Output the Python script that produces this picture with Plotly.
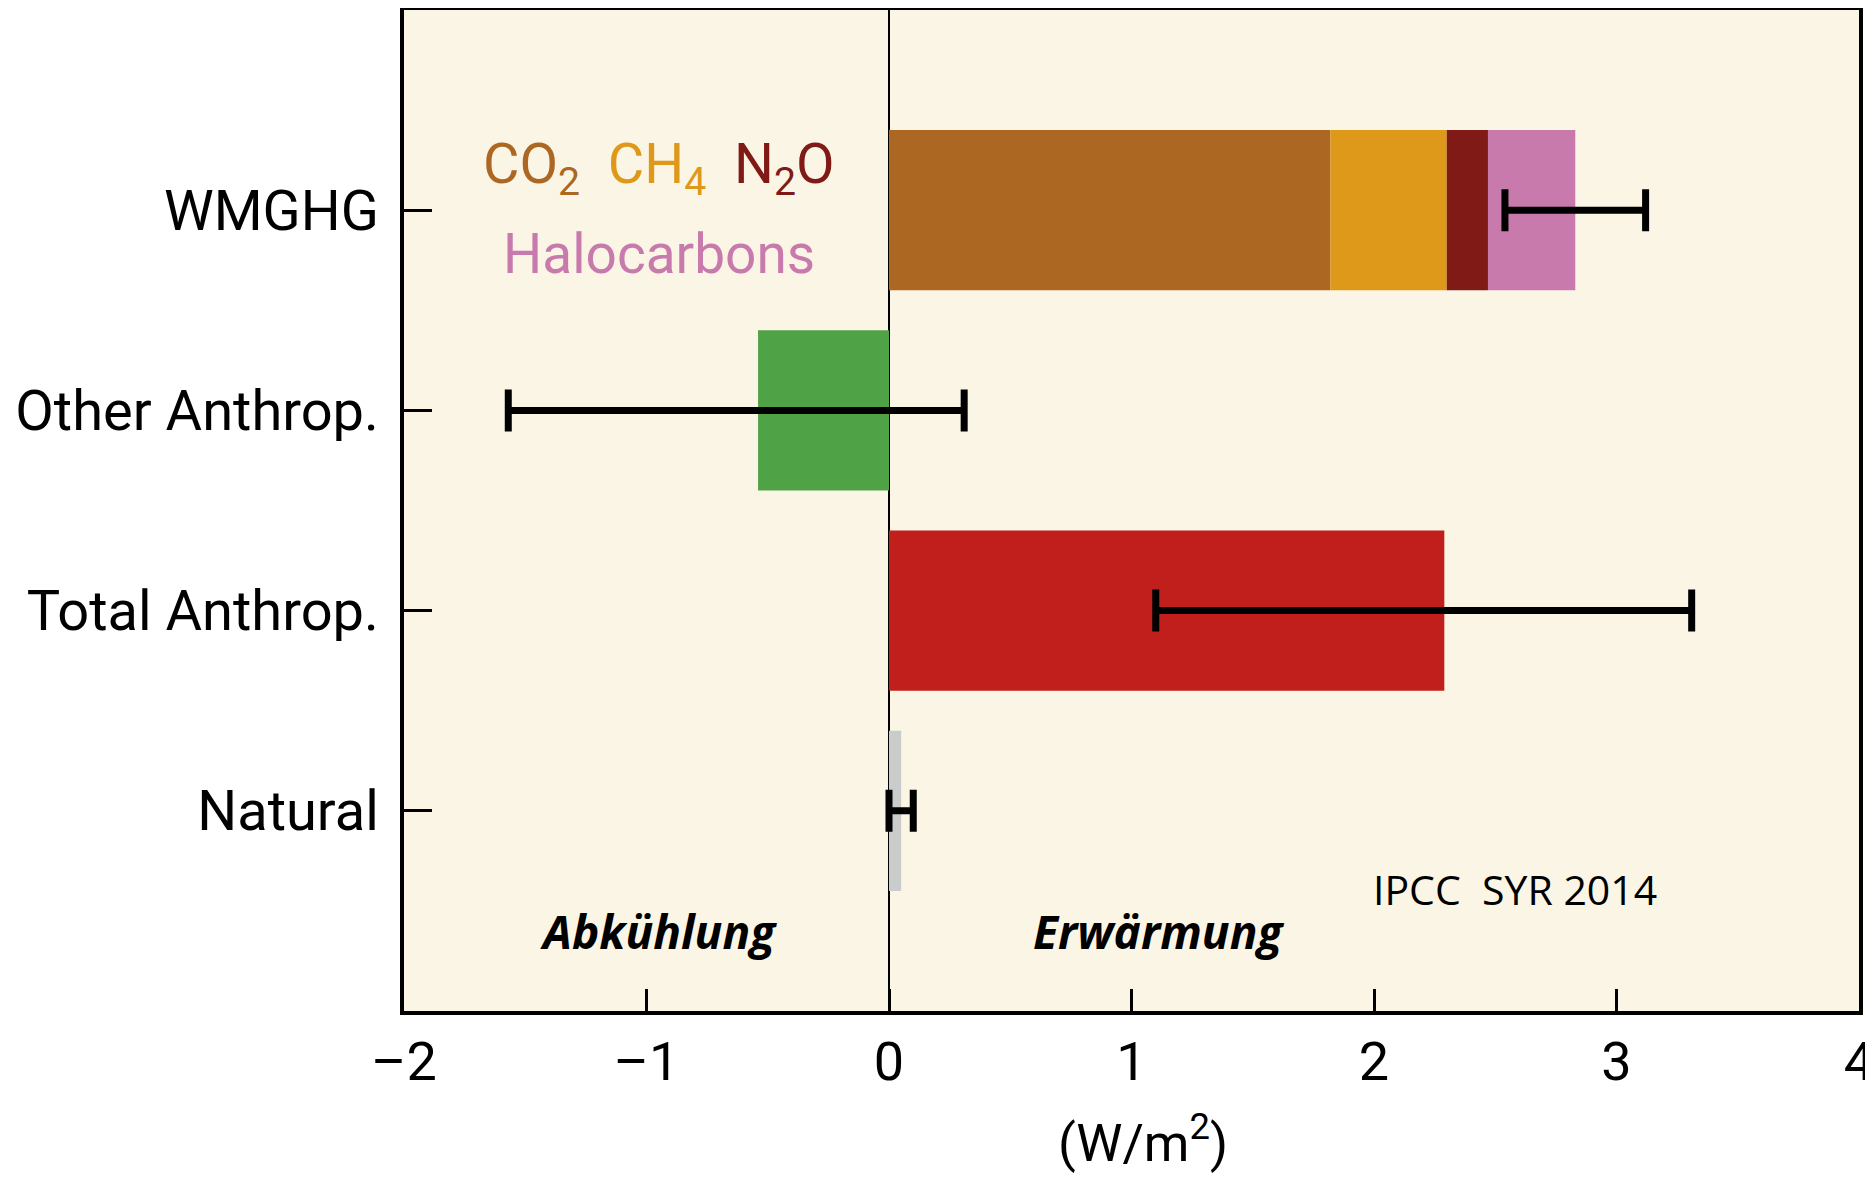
import plotly.graph_objects as go

# ---- data ----
categories = ["WMGHG", "Other Anthrop.", "Total Anthrop.", "Natural"]
cat_pos = [3, 2, 1, 0]

ghg_names = ["CO2", "CH4", "N2O", "Halocarbons"]
ghg_values = [1.82, 0.48, 0.17, 0.36]
ghg_colors = ["#AC6723", "#DE981A", "#7F1A17", "#C87AAD"]

other_value = [-0.54]
total_value = [2.29]
natural_value = [0.05]

best_est = [2.83, -0.54, 2.29, 0.05]
err_low = [2.54, -1.57, 1.10, 0.00]
err_high = [3.12, 0.31, 3.31, 0.10]

x_ticks = [-2, -1, 0, 1, 2, 3, 4]
x_ticktext = ["\u20132", "\u20131", "0", "1", "2", "3", "4"]

BG = "#FBF5E6"
COND = "Roboto, Lato, sans-serif"

fig = go.Figure()
for name, val, col in zip(ghg_names, ghg_values, ghg_colors):
    fig.add_trace(go.Bar(x=[val], y=[cat_pos[0]], orientation="h", width=0.8,
                         marker=dict(color=col, line=dict(width=0)), name=name,
                         showlegend=False))
fig.add_trace(go.Bar(x=other_value, y=[cat_pos[1]], orientation="h", width=0.8,
                     marker=dict(color="#50A246", line=dict(width=0)), showlegend=False))
fig.add_trace(go.Bar(x=total_value, y=[cat_pos[2]], orientation="h", width=0.8,
                     marker=dict(color="#C01F1B", line=dict(width=0)), showlegend=False))
fig.add_trace(go.Bar(x=natural_value, y=[cat_pos[3]], orientation="h", width=0.8,
                     marker=dict(color="#CACBCB", line=dict(width=0)), showlegend=False))

fig.add_trace(go.Scatter(
    x=best_est, y=cat_pos, mode="markers",
    marker=dict(size=0.1, color="rgba(0,0,0,0)"),
    error_x=dict(type="data", symmetric=False,
                 array=[h - b for h, b in zip(err_high, best_est)],
                 arrayminus=[b - l for l, b in zip(err_low, best_est)],
                 color="black", thickness=7, width=21),
    showlegend=False, hoverinfo="skip"))

annotations = [
    dict(x=-0.95, y=3.21, xref="x", yref="y", showarrow=False,
         text='<span style="color:#AC6723">CO<sub>2</sub></span>  '
              '<span style="color:#DE981A">CH<sub>4</sub></span>  '
              '<span style="color:#7F1A17">N<sub>2</sub>O</span>',
         font=dict(family=COND, size=56)),
    dict(x=-0.95, y=2.78, xref="x", yref="y", showarrow=False,
         text="Halocarbons", font=dict(family=COND, size=55, color="#C87AAD")),
    dict(x=-0.95, y=-0.6, xref="x", yref="y", showarrow=False,
         text="<b><i>Abkühlung</i></b>",
         font=dict(family="Open Sans", size=46, color="black")),
    dict(x=1.11, y=-0.6, xref="x", yref="y", showarrow=False,
         text="<b><i>Erwärmung</i></b>",
         font=dict(family="Open Sans", size=46, color="black")),
    dict(x=2.58, y=-0.39, xref="x", yref="y", showarrow=False,
         text="IPCC  SYR 2014",
         font=dict(family="Open Sans", size=41, color="black")),
    dict(x=0.508, y=-0.128, xref="paper", yref="paper", showarrow=False,
         text="(W/m<sup>2</sup>)", yanchor="middle",
         font=dict(family=COND, size=52, color="black")),
]

fig.update_layout(
    width=1873, height=1178,
    margin=dict(l=396, r=22, t=2, b=175, autoexpand=False),
    paper_bgcolor="white", plot_bgcolor=BG,
    barmode="relative", bargap=0.2,
    annotations=annotations,
    font=dict(family=COND, color="black"),
)
fig.update_xaxes(range=[-2, 4], tickvals=x_ticks, ticktext=x_ticktext,
                 ticks="inside", ticklen=22, tickwidth=3, tickcolor="black",
                 showline=True, linewidth=4, linecolor="black", mirror=True,
                 showgrid=False, zeroline=True, zerolinecolor="black", zerolinewidth=2,
                 tickfont=dict(family=COND, size=54, color="black"),
                 ticklabelstandoff=0, automargin=False, ticklabeloverflow="allow")
fig.update_yaxes(range=[-1, 4], tickvals=cat_pos, ticktext=categories,
                 ticks="inside", ticklen=28, tickwidth=3, tickcolor="black",
                 showline=True, linewidth=4, linecolor="black", mirror=True,
                 showgrid=False, zeroline=False,
                 tickfont=dict(family=COND, size=56, color="black"),
                 ticklabelstandoff=10, automargin=False)

fig.write_html("out.html")
